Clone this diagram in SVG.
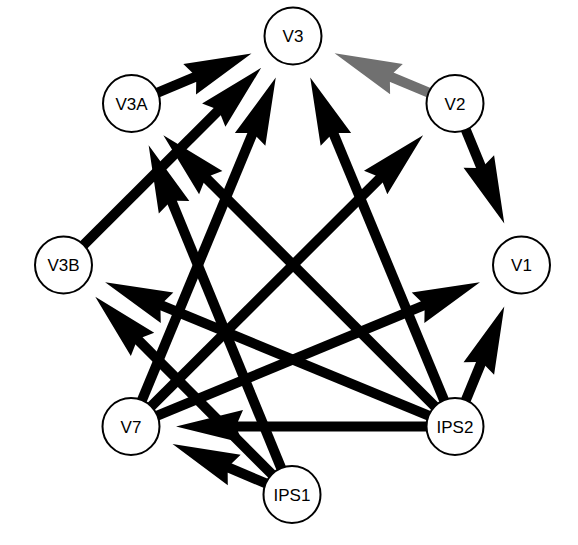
<svg xmlns="http://www.w3.org/2000/svg" width="578" height="545" viewBox="0 0 578 545">
<style>
.e{stroke:#000;stroke-width:10;fill:none;marker-end:url(#ah)}
.g{stroke:#707070;stroke-width:10;fill:none;marker-end:url(#ahg)}
.n circle{fill:#fff;stroke:#000;stroke-width:2}
.n text{font-family:"Liberation Sans",Arial,sans-serif;font-size:17px;fill:#000;text-anchor:middle}
</style>
<defs>
<marker id="ah" markerUnits="userSpaceOnUse" orient="auto" refX="0" refY="0" markerWidth="80" markerHeight="40" overflow="visible">
<path d="M61,0 L-6,-16.5 L-1,-5 L-1,5 L-6,16.5 Z" fill="#000"/>
</marker>
<marker id="ahg" markerUnits="userSpaceOnUse" orient="auto" refX="0" refY="0" markerWidth="80" markerHeight="40" overflow="visible">
<path d="M61,0 L-6,-16.5 L-1,-5 L-1,5 L-6,16.5 Z" fill="#707070"/>
</marker>
</defs>
<g id="connectors">
<line class="e" x1="149.9" y1="95.8" x2="195.2" y2="76.9"/>
<line class="g" x1="436.5" y1="95.8" x2="390.9" y2="76.8"/>
<line class="e" x1="462.6" y1="122" x2="481.1" y2="167"/>
<line class="e" x1="77.7" y1="250.9" x2="218" y2="110.9"/>
<line class="e" x1="138.7" y1="408" x2="252.4" y2="133.9"/>
<line class="e" x1="145.2" y1="412.4" x2="379.9" y2="178.3"/>
<line class="e" x1="149.5" y1="418.9" x2="423.6" y2="305.5"/>
<line class="e" x1="447.3" y1="408" x2="333.6" y2="133.9"/>
<line class="e" x1="440.8" y1="412.4" x2="206.5" y2="178.4"/>
<line class="e" x1="436.5" y1="418.9" x2="161.5" y2="305.4"/>
<line class="e" x1="435" y1="426.5" x2="237" y2="426.5"/>
<line class="e" x1="462.6" y1="408" x2="481.1" y2="363"/>
<line class="e" x1="284.4" y1="476" x2="171.8" y2="201.6"/>
<line class="e" x1="277.9" y1="480.3" x2="138.3" y2="340.1"/>
<line class="e" x1="273.6" y1="486.7" x2="228.7" y2="467.7"/>
</g>
<g id="V3" class="n"><circle cx="293" cy="36" r="28.5"/><text x="293" y="42">V3</text></g>
<g id="V3A" class="n"><circle cx="131.5" cy="103.5" r="28.5"/><text x="131.5" y="109.5">V3A</text></g>
<g id="V2" class="n"><circle cx="455" cy="103.5" r="28.5"/><text x="455" y="109.5">V2</text></g>
<g id="V3B" class="n"><circle cx="63.5" cy="265" r="28.5"/><text x="63.5" y="271">V3B</text></g>
<g id="V1" class="n"><circle cx="521.5" cy="265" r="28.5"/><text x="521.5" y="271">V1</text></g>
<g id="V7" class="n"><circle cx="131" cy="426.5" r="28.5"/><text x="131" y="432.5">V7</text></g>
<g id="IPS2" class="n"><circle cx="455" cy="426.5" r="28.5"/><text x="455" y="432.5">IPS2</text></g>
<g id="IPS1" class="n"><circle cx="292" cy="494.5" r="28.5"/><text x="292" y="500.5">IPS1</text></g>
</svg>
